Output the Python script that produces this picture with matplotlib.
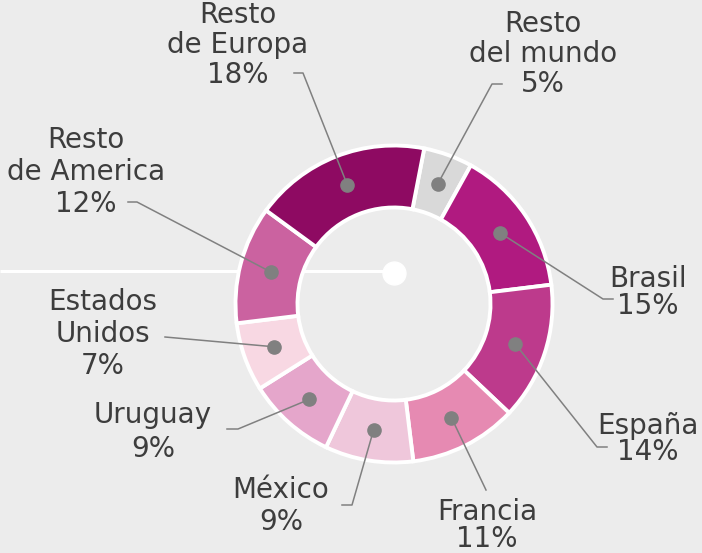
import numpy as np
import matplotlib.pyplot as plt

# data
labels = ['Resto\ndel mundo', 'Brasil', 'España', 'Francia', 'México',
          'Uruguay', 'Estados\nUnidos', 'Resto\nde America', 'Resto\nde Europa']
shares = [5, 15, 14, 11, 9, 9, 7, 12, 18]
colors = ['#d9d9d9', '#b01a80', '#bd3a8c', '#e68ab2', '#efc7db',
          '#e5a6cb', '#f8d8e3', '#cb62a0', '#8e0a62']

W, H = 702, 553
BG = '#ececec'
TXT = '#3d3d3d'
GREY = '#808080'

# layout in pixels (y from top): text x, first baseline, line step, leader elbow, leader end
layout = {
    'Resto\ndel mundo': dict(x=543, y=32, step=30, elbow=(492, 84), end=(502, 84)),
    'Brasil': dict(x=648, y=287, step=27, elbow=(603, 299), end=(613, 299)),
    'España': dict(x=648, y=434, step=26, elbow=(597, 447), end=(607, 447)),
    'Francia': dict(x=487, y=520, step=27, elbow=(486, 490), end=(486, 490)),
    'México': dict(x=281, y=498, step=32, elbow=(352, 505), end=(342, 505)),
    'Uruguay': dict(x=153, y=423, step=34, elbow=(238, 429), end=(227, 429)),
    'Estados\nUnidos': dict(x=103, y=310, step=32, elbow=(165, 337), end=(165, 337)),
    'Resto\nde America': dict(x=86, y=148, step=32, elbow=(137, 202), end=(128, 202)),
    'Resto\nde Europa': dict(x=238, y=23, step=30, elbow=(303, 73), end=(294, 73)),
}

cx, cy = 394, 304
r_out, r_in = 158.5, 96.5


def fy(y):
    # pixel row -> data y
    return H - y


fig = plt.figure(figsize=(W / 100, H / 100), dpi=100)
fig.patch.set_facecolor(BG)
ax = fig.add_axes([0, 0, 1, 1])
ax.set_facecolor(BG)

# white guide line with dot
ax.plot([0, cx], [fy(271), fy(271)], color='white', lw=2.2, zorder=1, solid_capstyle='butt')
ax.plot([cx], [fy(273)], 'o', color='white', ms=16.5, zorder=3)

wedges, _ = ax.pie(shares, colors=colors, startangle=79, counterclock=False,
                   radius=r_out, center=(cx, fy(cy)),
                   wedgeprops=dict(width=r_out - r_in, edgecolor='white', linewidth=2.8))
for w in wedges:
    w.set_zorder(2)

r_mid = (r_out + r_in) / 2
for w, lab in zip(wedges, labels):
    ang = np.deg2rad((w.theta1 + w.theta2) / 2)
    px = cx + r_mid * np.cos(ang)
    py = fy(cy) + r_mid * np.sin(ang)
    L = layout[lab]
    ex, ey = L['elbow']
    tx, ty = L['end']
    ax.plot([px, ex, tx], [py, fy(ey), fy(ty)], color=GREY, lw=1.1, zorder=4)
    ax.plot([px], [py], 'o', color=GREY, ms=9.5, zorder=5)
    share = shares[labels.index(lab)]
    lines = lab.split('\n') + [f'{share}%']
    for i, s in enumerate(lines):
        ax.text(L['x'], fy(L['y'] + i * L['step']), s, ha='center', va='baseline',
                fontsize=20, color=TXT, family='DejaVu Sans', zorder=6)

ax.set_xlim(0, W)
ax.set_ylim(0, H)
ax.set_aspect('equal')
ax.axis('off')

fig.savefig('out.png', dpi=100, facecolor=BG)
